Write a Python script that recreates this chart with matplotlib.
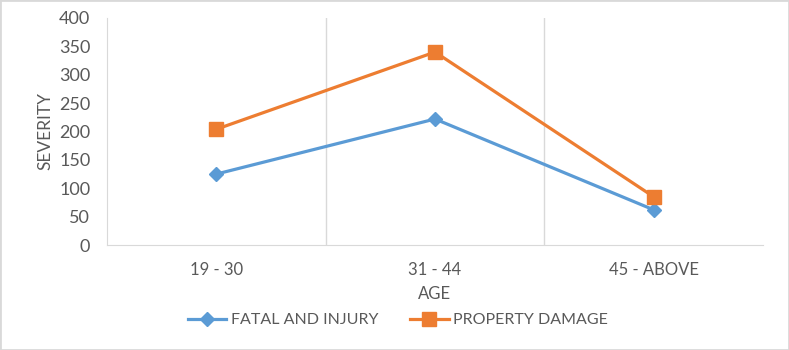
import matplotlib
matplotlib.use("Agg")
import matplotlib.pyplot as plt
from matplotlib.patches import Rectangle

# data
ages = ['19 - 30', '31 - 44', '45 - ABOVE']
fatal_injury = [125, 222, 62]
property_damage = [204, 340, 85]
y_ticks = [0, 50, 100, 150, 200, 250, 300, 350, 400]

blue = '#5B9BD5'
orange = '#ED7D31'
text_col = '#595959'
grid_col = '#D9D9D9'

plt.rcParams['font.family'] = ['Lato', 'DejaVu Sans']

fig = plt.figure(figsize=(7.89, 3.5), dpi=100)
ax = fig.add_axes([107 / 789, 1 - 245 / 350, 656 / 789, 227 / 350])

x = list(range(len(ages)))
ax.plot(x, fatal_injury, color=blue, lw=2.3, marker='D', ms=7,
        label='FATAL AND INJURY')
ax.plot(x, property_damage, color=orange, lw=2.3, marker='s', ms=10,
        label='PROPERTY DAMAGE')

ax.set_xlim(-0.5, len(ages) - 0.5)
ax.set_ylim(0, 400)
ax.set_yticks(y_ticks)
ax.set_xticks(x)
ax.set_xticklabels(ages, color=text_col, fontsize=12)
ax.tick_params(axis='y', colors=text_col, labelsize=13, length=0, pad=12)
ax.tick_params(axis='x', length=0, pad=12)

# vertical gridlines between categories
for b in [0.5, 1.5]:
    ax.axvline(b, color=grid_col, lw=1, zorder=0)

for side in ['top', 'right']:
    ax.spines[side].set_visible(False)
ax.spines['left'].set_color(grid_col)
ax.spines['bottom'].set_color(grid_col)

ax.set_xlabel('AGE', color=text_col, fontsize=12, labelpad=6)
ax.set_ylabel('SEVERITY', color=text_col, fontsize=12.5)
ax.yaxis.set_label_coords(-0.082, 0.5)

fig.legend(loc='center', bbox_to_anchor=(398 / 789, 1 - 320 / 350), ncol=2,
           frameon=False, fontsize=11.5, labelcolor=text_col, columnspacing=2.0,
           handlelength=2.4, handletextpad=0.3)

# light outer border like the original
fig.patches.append(Rectangle((0, 0), 1, 1, transform=fig.transFigure,
                             fill=False, edgecolor=grid_col, lw=2))

fig.savefig('out.png', dpi=100)
